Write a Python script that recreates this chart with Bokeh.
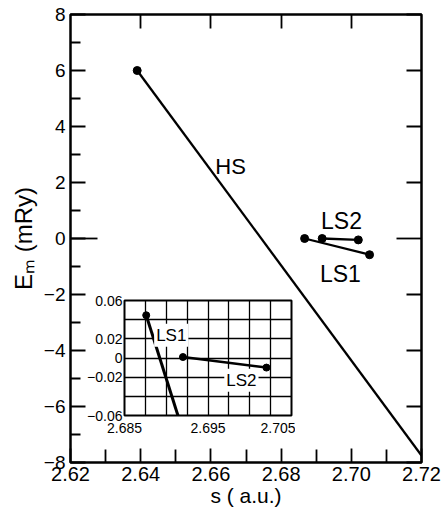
from bokeh.plotting import figure
from bokeh.models import FixedTicker, LinearAxis, Label, Range1d, NumeralTickFormatter
from bokeh.embed import file_html
from bokeh.resources import INLINE

# ---- main panel data ----
hs_s = [2.639, 2.72]
hs_e = [6.0, -7.75]
ls1_s = [2.6867, 2.7052]
ls1_e = [0.0, -0.58]
ls2_s = [2.6917, 2.7020]
ls2_e = [0.0, -0.05]

x_major = [2.62, 2.64, 2.66, 2.68, 2.70, 2.72]
x_minor = [2.63, 2.65, 2.67, 2.69, 2.71]
x_top = [2.64, 2.66, 2.68, 2.70]
y_major = [-8, -6, -4, -2, 0, 2, 4, 6, 8]
y_minor = [-7, -5, -3, -1, 1, 3, 5, 7]
y_right_minor = [-8, -6, -4, -2, 2, 4, 6, 8]

# ---- inset data ----
in_ls1_s = [2.6876, 2.6914]
in_ls1_e = [0.0446, -0.06]
in_ls2_s = [2.6920, 2.7020]
in_ls2_e = [0.001, -0.010]
in_x_labels = [2.685, 2.695, 2.705]
in_y_labels = [-0.06, -0.02, 0, 0.02, 0.06]
in_x_grid = [2.685, 2.6875, 2.69, 2.6925, 2.695, 2.6975, 2.70, 2.7025, 2.705]
in_y_grid = [-0.06, -0.04, -0.02, 0, 0.02, 0.04, 0.06]

FONT = "Liberation Sans"
NARROW = "Liberation Sans Narrow, Liberation Sans"

p = figure(frame_width=351, frame_height=448,
           x_range=Range1d(2.62, 2.72), y_range=Range1d(-8, 8),
           min_border_left=70, min_border_right=21, min_border_top=14, min_border_bottom=48,
           y_axis_location=None, x_axis_location="below",
           output_backend="svg", toolbar_location=None)
p.grid.visible = False
p.outline_line_color = "black"
p.outline_line_width = 2.5
p.outline_line_alpha = 1
p.background_fill_color = "white"
p.border_fill_color = "white"

def style_ticks(ax, tin, min_in):
    ax.major_tick_in = tin
    ax.major_tick_out = 0
    ax.minor_tick_in = min_in
    ax.minor_tick_out = 0
    ax.major_tick_line_width = 1.8
    ax.minor_tick_line_width = 1.8
    ax.major_tick_line_color = "black"
    ax.minor_tick_line_color = "black"
    ax.axis_line_color = None

def hide_labels(ax):
    ax.major_label_text_font_size = "0px"
    ax.major_label_text_color = None
    ax.major_label_standoff = 0

# zero tick axis (inner, no labels)
zero_ax = LinearAxis(ticker=FixedTicker(ticks=[0], minor_ticks=[]))
style_ticks(zero_ax, 27, 0)
hide_labels(zero_ax)
p.add_layout(zero_ax, "left")

# labelled left axis
yax = LinearAxis(ticker=FixedTicker(ticks=y_major, minor_ticks=y_minor))
style_ticks(yax, 15, 10)
yax.major_label_text_font = FONT
yax.major_label_text_font_size = "19px"
yax.major_label_text_color = "black"
yax.major_label_standoff = 5
yax.axis_label = "E\u2098 (mRy)"
yax.axis_label_text_font = FONT
yax.axis_label_text_font_size = "24px"
yax.axis_label_text_font_style = "normal"
yax.axis_label_text_color = "black"
yax.axis_label_standoff = 4
p.add_layout(yax, "left")

xax = p.xaxis[0]
xax.ticker = FixedTicker(ticks=x_major, minor_ticks=x_minor)
xax.formatter = NumeralTickFormatter(format="0.00")
style_ticks(xax, 14, 13)
xax.major_label_text_font = FONT
xax.major_label_text_font_size = "20px"
xax.major_label_text_color = "black"
xax.major_label_standoff = 4
xax.axis_label = "s ( a.u.)"
xax.axis_label_text_font = FONT
xax.axis_label_text_font_size = "21px"
xax.axis_label_text_font_style = "normal"
xax.axis_label_text_color = "black"
xax.axis_label_standoff = 0

rax = LinearAxis(ticker=FixedTicker(ticks=[0], minor_ticks=y_right_minor))
style_ticks(rax, 25, 15)
hide_labels(rax)
p.add_layout(rax, "right")

tax = LinearAxis(ticker=FixedTicker(ticks=x_top, minor_ticks=[]))
style_ticks(tax, 14, 0)
hide_labels(tax)
p.add_layout(tax, "above")

p.line(hs_s, hs_e, line_color="black", line_width=2.3)
p.line(ls1_s, ls1_e, line_color="black", line_width=2.3)
p.line(ls2_s, ls2_e, line_color="black", line_width=2.3)
p.scatter(hs_s[:1], hs_e[:1], size=8, color="black")
p.scatter(ls1_s, ls1_e, size=8, color="black")
p.scatter(ls2_s, ls2_e, size=8, color="black")

for txt, x, y, fs in [("HS", 2.6656, 2.57, "22px"), ("LS2", 2.6972, 0.61, "23px"), ("LS1", 2.6969, -1.25, "23px")]:
    p.add_layout(Label(x=x, y=y, text=txt, text_align="center", text_baseline="middle",
                       text_font=NARROW, text_font_size=fs, text_color="black"))

# ---- inset ----
ins = figure(frame_width=167, frame_height=115,
             x_range=Range1d(2.685, 2.705), y_range=Range1d(-0.06, 0.06),
             min_border_left=44, min_border_right=4, min_border_top=6, min_border_bottom=26,
             output_backend="svg", toolbar_location=None)
ins.styles = {"position": "absolute", "left": "80px", "top": "294px"}
ins.background_fill_color = "white"
ins.border_fill_alpha = 0
ins.outline_line_color = "black"
ins.outline_line_width = 2
ins.outline_line_alpha = 1
ins.xgrid.ticker = FixedTicker(ticks=in_x_grid)
ins.ygrid.ticker = FixedTicker(ticks=in_y_grid)
for g in (ins.xgrid, ins.ygrid):
    g.grid_line_color = "black"
    g.grid_line_width = 1.3
    g.grid_line_alpha = 1

ix = ins.xaxis[0]
ix.ticker = FixedTicker(ticks=in_x_labels)
ix.formatter = NumeralTickFormatter(format="0.000")
iy = ins.yaxis[0]
iy.ticker = FixedTicker(ticks=in_y_labels)
iy.major_label_overrides = {0: "0"}
for ax in (ix, iy):
    ax.major_tick_in = 0
    ax.major_tick_out = 0
    ax.minor_tick_in = 0
    ax.minor_tick_out = 0
    ax.axis_line_color = None
    ax.major_tick_line_color = None
    ax.minor_tick_line_color = None
    ax.major_label_text_font = FONT
    ax.major_label_text_font_size = "14px"
    ax.major_label_text_color = "black"
ix.major_label_standoff = 7
iy.major_label_standoff = 2

ins.line(in_ls1_s, in_ls1_e, line_color="black", line_width=3)
ins.line(in_ls2_s, in_ls2_e, line_color="black", line_width=2.5)
ins.scatter(in_ls1_s[:1], in_ls1_e[:1], size=7, color="black")
ins.scatter(in_ls2_s, in_ls2_e, size=7, color="black")
for txt, x, y in [("LS1", 2.6906, 0.0237), ("LS2", 2.6990, -0.0233)]:
    ins.add_layout(Label(x=x, y=y, text=txt, text_align="center", text_baseline="middle",
                         text_font=NARROW, text_font_size="17px", text_color="black",
                         background_fill_color="white", padding=2))

open("out.html", "w").write(file_html([p, ins], INLINE))
